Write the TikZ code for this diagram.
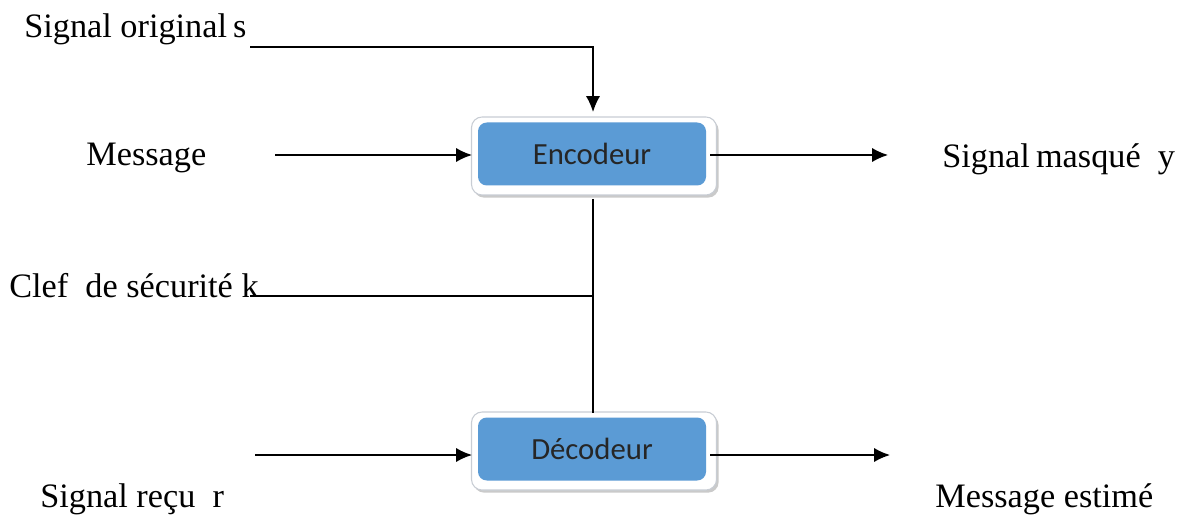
\documentclass[tikz,border=0pt]{standalone}
\usepackage{fontspec}
\setmainfont{Liberation Serif}
\newfontfamily\boxfont{Carlito}
\usetikzlibrary{arrows.meta,shadows}
\definecolor{boxblue}{RGB}{91,155,213}
\definecolor{frameedge}{RGB}{200,205,212}
\tikzset{
  lbl/.style={font=\fontsize{19.5}{21}\selectfont, inner sep=0pt},
  outerframe/.style={draw=frameedge, line width=0.6pt, fill=white, rounded corners=6pt,
     minimum width=245*0.02cm, minimum height=78*0.02cm, inner sep=0pt,
     drop shadow={shadow xshift=1.2pt, shadow yshift=-1.5pt, fill=black!35, opacity=0.6}},
  blockbox/.style={fill=boxblue, rounded corners=5pt, minimum width=228*0.02cm,
     minimum height=63*0.02cm, inner sep=0pt, font=\boxfont\fontsize{17.5}{19}\selectfont, text=black!85},
  conn/.style={line width=0.8pt, black},
  arr/.style={conn, -{Latex[length=9pt,width=8pt]}}
}
\begin{document}
\begin{tikzpicture}[x=0.02cm,y=-0.02cm]
\useasboundingbox (0,0) rectangle (1179,520);
% boxes
\node[outerframe] (encf) at (594,156) {};
\node[blockbox] (enc) at (592,154) {Encodeur};
\node[outerframe] (decf) at (594,451) {};
\node[blockbox] (dec) at (592,449) {Décodeur};
% labels
\node[lbl, anchor=base west] (sorig) at (24,38) {Signal original\hspace{0.18em}s};
\node[lbl, anchor=base west] (msg) at (86,166) {Message};
\node[lbl, anchor=base west] (smask) at (942,168) {Signal\hspace{0.18em}masqué~ y};
\node[lbl, anchor=base west] (clef) at (9,297) {Clef~ de sécurité k};
\node[lbl, anchor=base west] (srecu) at (40,507) {Signal reçu~ r};
\node[lbl, anchor=base west] (mest) at (935,507) {Message estimé};
% connector coordinates
\coordinate (s0) at (250,47);
\coordinate (s1) at (593,47);
\coordinate (m0) at (275,155);
\coordinate (y1) at (888,155);
\coordinate (k0) at (250,296);
\coordinate (kj) at (593,296);
\coordinate (r0) at (255,455);
\coordinate (e1) at (890,455);
% connectors
\draw[arr] (s0) -- (s1) -- (593,112);
\draw[arr] (m0) -- (472,155);
\draw[arr] (710,155) -- (y1);
\draw[conn] (593,199) -- (593,413);
\draw[conn] (k0) -- (kj);
\draw[arr] (r0) -- (472,455);
\draw[arr] (710,455) -- (e1);
\end{tikzpicture}
\end{document}
